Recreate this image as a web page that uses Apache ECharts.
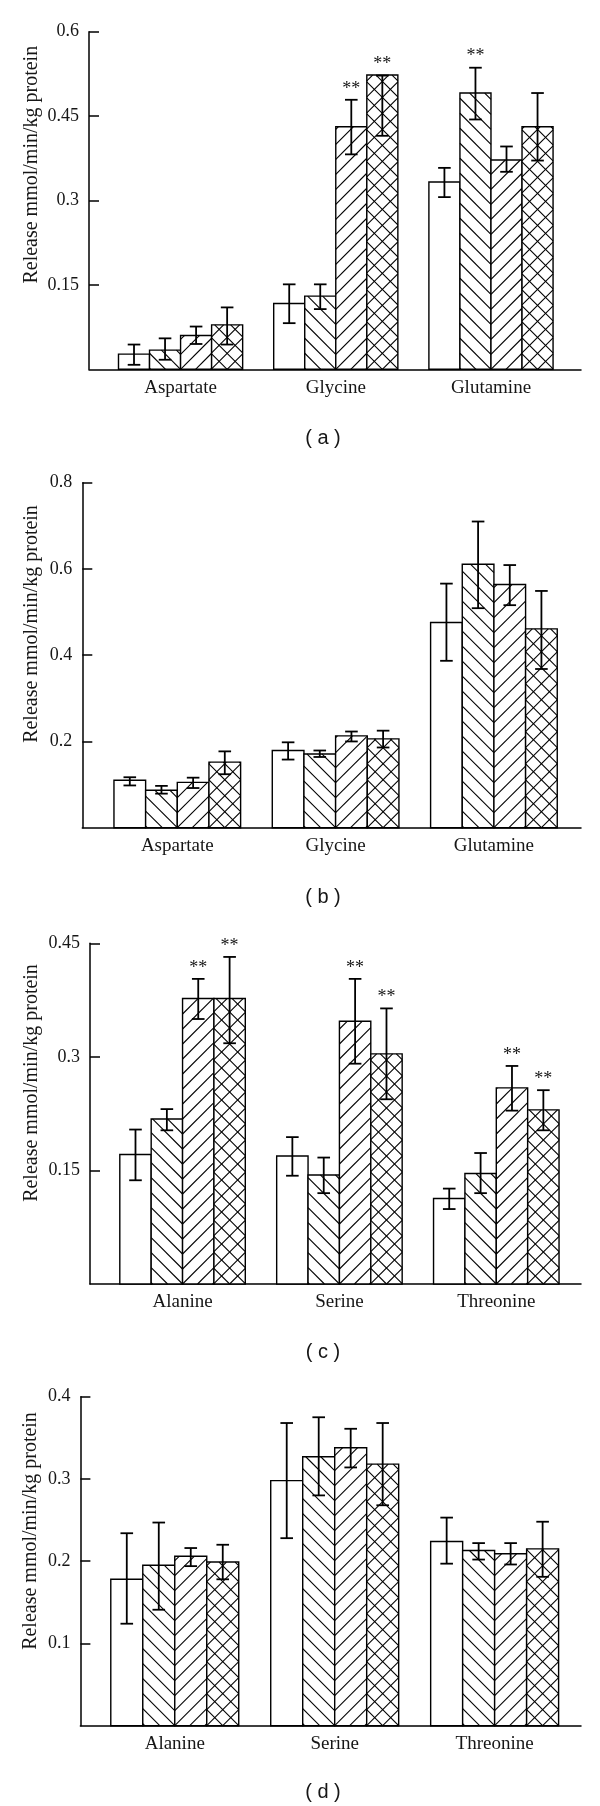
<!DOCTYPE html>
<html>
<head>
<meta charset="utf-8">
<script src="https://cdn.jsdelivr.net/npm/echarts@6/dist/echarts.min.js"></script>
<style>
html,body{margin:0;padding:0;background:#fff;}
#chart{width:600px;height:1806px;}
</style>
</head>
<body>
<div id="chart"></div>
<script>
// ---------- data ----------
const catsAB = ['Aspartate', 'Glycine', 'Glutamine'];
const catsCD = ['Alanine', 'Serine', 'Threonine'];

// panel (a): rows = categories, columns = 4 bars
const meanA = [[0.027, 0.034, 0.060, 0.079], [0.117, 0.130, 0.431, 0.523], [0.333, 0.491, 0.372, 0.431]];
const hiA   = [[0.044, 0.055, 0.076, 0.110], [0.151, 0.151, 0.479, 0.522], [0.358, 0.536, 0.396, 0.491]];
const loA   = [[0.008, 0.017, 0.045, 0.044], [0.082, 0.107, 0.382, 0.415], [0.306, 0.444, 0.351, 0.371]];
const starsA = [[0, 0, 0, 0], [0, 0, 1, 1], [0, 1, 0, 0]];
const ticksA = [0.15, 0.3, 0.45, 0.6];

// panel (b)
const meanB = [[0.110, 0.087, 0.105, 0.152], [0.179, 0.171, 0.213, 0.206], [0.476, 0.611, 0.564, 0.461]];
const hiB   = [[0.117, 0.097, 0.116, 0.177], [0.198, 0.179, 0.223, 0.225], [0.566, 0.710, 0.609, 0.549]];
const loB   = [[0.098, 0.079, 0.092, 0.124], [0.158, 0.164, 0.200, 0.186], [0.387, 0.509, 0.516, 0.368]];
const starsB = [[0, 0, 0, 0], [0, 0, 0, 0], [0, 0, 0, 0]];
const ticksB = [0.2, 0.4, 0.6, 0.8];

// panel (c)
const meanC = [[0.171, 0.218, 0.377, 0.377], [0.169, 0.144, 0.347, 0.304], [0.113, 0.146, 0.259, 0.230]];
const hiC   = [[0.204, 0.231, 0.403, 0.432], [0.194, 0.167, 0.403, 0.364], [0.126, 0.173, 0.288, 0.256]];
const loC   = [[0.137, 0.203, 0.350, 0.318], [0.143, 0.120, 0.291, 0.244], [0.099, 0.120, 0.229, 0.203]];
const starsC = [[0, 0, 1, 1], [0, 0, 1, 1], [0, 0, 1, 1]];
const ticksC = [0.15, 0.3, 0.45];

// panel (d)
const meanD = [[0.178, 0.195, 0.206, 0.199], [0.298, 0.327, 0.338, 0.318], [0.224, 0.213, 0.209, 0.215]];
const hiD   = [[0.234, 0.247, 0.216, 0.220], [0.368, 0.375, 0.361, 0.368], [0.253, 0.222, 0.222, 0.248]];
const loD   = [[0.124, 0.141, 0.194, 0.178], [0.228, 0.280, 0.314, 0.268], [0.197, 0.202, 0.196, 0.181]];
const starsD = [[0, 0, 0, 0], [0, 0, 0, 0], [0, 0, 0, 0]];
const ticksD = [0.1, 0.2, 0.3, 0.4];

const yTitle = 'Release mmol/min/kg protein';
const captions = ['( a )', '( b )', '( c )', '( d )'];

// ---------- layout ----------
const SERIF = '"Liberation Serif", "Times New Roman", serif';
const SANS = '"Liberation Sans", Arial, sans-serif';
const TXT = '#161616';

const panels = [
  {cats: catsAB, mean: meanA, hi: hiA, lo: loA, stars: starsA, ticks: ticksA, ymax: 0.6,
   grid: {left: 89, top: 31.7, width: 492, height: 337.6}, xmin: 0.41, xmax: 3.58, titleX: 31.5, titleY: 164.7, capY: 438},
  {cats: catsAB, mean: meanB, hi: hiB, lo: loB, stars: starsB, ticks: ticksB, ymax: 0.8,
   grid: {left: 82.3, top: 482.7, width: 498.7, height: 345}, xmin: 0.40, xmax: 3.55, titleX: 31.5, titleY: 624, capY: 897},
  {cats: catsCD, mean: meanC, hi: hiC, lo: loC, stars: starsC, ticks: ticksC, ymax: 0.45,
   grid: {left: 90, top: 943.3, width: 491, height: 340.7}, xmin: 0.41, xmax: 3.54, titleX: 31.5, titleY: 1083, capY: 1352},
  {cats: catsCD, mean: meanD, hi: hiD, lo: loD, stars: starsD, ticks: ticksD, ymax: 0.4,
   grid: {left: 80.4, top: 1396.7, width: 500.6, height: 329}, xmin: 0.41, xmax: 3.54, titleX: 30.8, titleY: 1531, capY: 1792}
];

function hatch(children, s, ax, ay, p, xL, xR, yT, yB) {
  const span = Math.abs(xL - ax) + Math.abs(xR - ax);
  const kmin = Math.floor((yT - ay - span) / p) - 1;
  const kmax = Math.ceil((yB - ay + span) / p) + 1;
  for (let k = kmin; k <= kmax; k++) {
    const yL = ay + k * p + s * (xL - ax);
    const x1 = xL + s * (yT - yL), x2 = xL + s * (yB - yL);
    const xa = Math.max(xL, Math.min(x1, x2));
    const xb = Math.min(xR, Math.max(x1, x2));
    if (xb - xa > 0.3) {
      children.push({
        type: 'line',
        shape: {x1: xa, y1: yL + s * (xa - xL), x2: xb, y2: yL + s * (xb - xL)},
        style: {stroke: '#000', lineWidth: 1.1}
      });
    }
  }
}

function renderItem(params, api) {
  const cx = api.value(0), j = api.value(1), v = api.value(2);
  const lo = api.value(3), hi = api.value(4), st = api.value(5);
  const l = cx - 0.4 + j * 0.2, r = l + 0.2;
  const pb = api.coord([l, 0]), pt = api.coord([r, v]);
  const xL = pb[0], yB = pb[1], xR = pt[0], yT = pt[1];
  const ch = [];
  ch.push({type: 'rect', shape: {x: xL, y: yT, width: xR - xL, height: yB - yT}, style: {fill: '#fff', stroke: 'none'}});
  if (j === 1) hatch(ch, 1, xR, yB, 15, xL, xR, yT, yB);
  if (j === 2) hatch(ch, -1, xL, yB, 15, xL, xR, yT, yB);
  if (j === 3) {
    const m = (xL + xR) / 2;
    hatch(ch, 1, m, yB, 16, xL, xR, yT, yB);
    hatch(ch, -1, m, yB, 16, xL, xR, yT, yB);
  }
  ch.push({type: 'rect', shape: {x: xL, y: yT, width: xR - xL, height: yB - yT}, style: {fill: 'none', stroke: '#000', lineWidth: 1.4}});
  const mx = (xL + xR) / 2;
  const yh = api.coord([cx, hi])[1], yl = api.coord([cx, lo])[1];
  const es = {stroke: '#000', lineWidth: 1.8};
  ch.push({type: 'line', shape: {x1: mx, y1: yh, x2: mx, y2: yl}, style: es});
  ch.push({type: 'line', shape: {x1: mx - 6.3, y1: yh, x2: mx + 6.3, y2: yh}, style: es});
  ch.push({type: 'line', shape: {x1: mx - 6.3, y1: yl, x2: mx + 6.3, y2: yl}, style: es});
  if (st) {
    ch.push({type: 'text', style: {text: '**', x: mx, y: yh - 11, align: 'center', verticalAlign: 'middle',
      fontFamily: SERIF, fontSize: 18, fill: TXT}});
  }
  return {type: 'group', children: ch};
}

const grids = [], xAxes = [], yAxes = [], series = [], graphics = [];
const axisLine = {show: true, onZero: false, lineStyle: {color: '#000', width: 1.5}};
panels.forEach((P, i) => {
  grids.push(Object.assign({containLabel: false}, P.grid));
  xAxes.push({
    gridIndex: i, type: 'value', min: P.xmin, max: P.xmax,
    axisLine: axisLine, axisTick: {show: false}, splitLine: {show: false},
    axisLabel: {customValues: [1, 2, 3], formatter: (val) => P.cats[Math.round(val) - 1],
      fontFamily: SERIF, fontSize: 19, color: TXT, margin: 9}
  });
  yAxes.push({
    gridIndex: i, type: 'value', min: 0, max: P.ymax,
    axisLine: axisLine,
    axisTick: {show: true, inside: true, length: 10, customValues: P.ticks, lineStyle: {color: '#000', width: 1.5}},
    axisLabel: {customValues: P.ticks, fontFamily: SERIF, fontSize: 18, color: TXT, margin: 10},
    splitLine: {show: false}
  });
  const data = [];
  P.mean.forEach((row, c) => row.forEach((m, j) => {
    data.push([c + 1, j, m, P.lo[c][j], P.hi[c][j], P.stars[c][j]]);
  }));
  series.push({type: 'custom', xAxisIndex: i, yAxisIndex: i, renderItem: renderItem, data: data,
    encode: {x: 0, y: 2}, clip: false, silent: true});
  graphics.push({type: 'text', x: P.titleX, y: P.titleY, rotation: Math.PI / 2,
    style: {text: yTitle, align: 'center', verticalAlign: 'middle', fontFamily: SERIF, fontSize: 20, fill: TXT}});
  graphics.push({type: 'text', x: 323, y: P.capY,
    style: {text: captions[i], align: 'center', verticalAlign: 'middle', fontFamily: SANS, fontSize: 20, fill: TXT}});
});

const chart = echarts.init(document.getElementById('chart'), null, {renderer: 'canvas'});
chart.setOption({
  animation: false,
  backgroundColor: '#fff',
  grid: grids, xAxis: xAxes, yAxis: yAxes, series: series, graphic: graphics
});
</script>
</body>
</html>
